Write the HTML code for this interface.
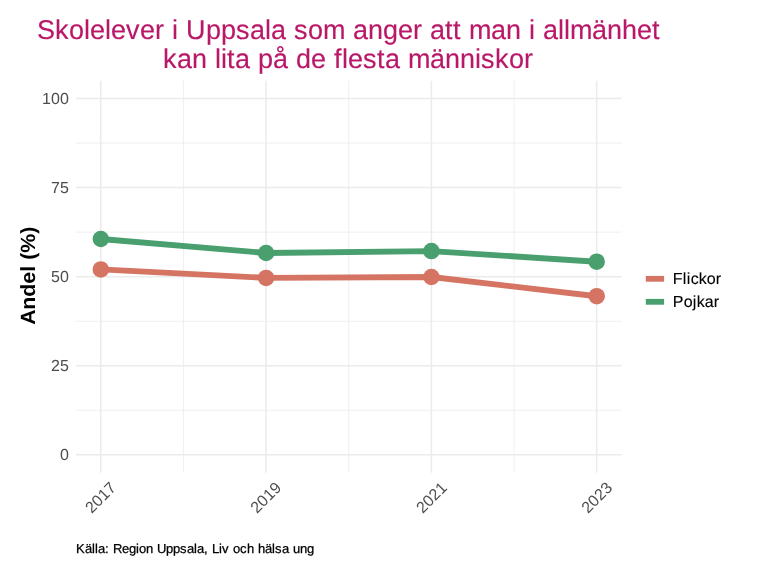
<!DOCTYPE html>
<html lang="sv">
<head>
<meta charset="utf-8">
<title>Skolelever i Uppsala som anger att man i allmänhet kan lita på de flesta människor</title>
<style>
html,body{margin:0;padding:0;background:#fff;}
body{width:768px;height:576px;overflow:hidden;}
svg{display:block;}
text{font-family:"Liberation Sans",Arial,Helvetica,sans-serif;text-rendering:geometricPrecision;}
.title{font-size:27px;fill:#B91868;stroke:#B91868;stroke-width:0.15px;}
.tick{font-size:16px;fill:#4D4D4D;}
.ylab{font-size:21.33px;font-weight:bold;fill:#000;}
.leg{font-size:16px;fill:#000;stroke:#000;stroke-width:0.12px;}
.cap{font-size:13px;fill:#000;stroke:#000;stroke-width:0.25px;}
.maj{stroke:#EBEBEB;stroke-width:1.5;fill:none;}
.min{stroke:#EBEBEB;stroke-width:0.78;fill:none;}
</style>
</head>
<body>
<svg width="768" height="576" viewBox="0 0 768 576">
<rect width="768" height="576" fill="#fff"/>
<text class="title" transform="translate(37,38.8) scale(1,1.01)" x="0 18 32 47 53 68 74 89 103 118 127 135 141 149 169 184 199 213 228 234 249 257 271 286 308 316 331 346 361 376 385 393 408 416 424 432 454 469 484 492 498 506 521 527 533 555 570 585 600 615" y="0">Skolelever i Uppsala som anger att man i allmänhet</text>
<text class="title" transform="translate(163,67.9) scale(1,1.01)" x="0 14 29 44 52 58 64 72 87 95 110 125 133 148 163 171 179 185 200 214 222 237 245 267 282 297 312 318 332 346 361" y="0">kan lita på de flesta människor</text>
<g class="min">
<line x1="76.0" x2="621.5" y1="410.27" y2="410.27"/>
<line x1="76.0" x2="621.5" y1="321.21" y2="321.21"/>
<line x1="76.0" x2="621.5" y1="232.14" y2="232.14"/>
<line x1="76.0" x2="621.5" y1="143.08" y2="143.08"/>
<line y1="80.8" y2="472.7" x1="183.45" x2="183.45"/>
<line y1="80.8" y2="472.7" x1="348.75" x2="348.75"/>
<line y1="80.8" y2="472.7" x1="514.05" x2="514.05"/>
</g>
<g class="maj">
<line x1="76.0" x2="621.5" y1="454.8" y2="454.8"/>
<line x1="76.0" x2="621.5" y1="365.74" y2="365.74"/>
<line x1="76.0" x2="621.5" y1="276.68" y2="276.68"/>
<line x1="76.0" x2="621.5" y1="187.61" y2="187.61"/>
<line x1="76.0" x2="621.5" y1="98.55" y2="98.55"/>
<line y1="80.8" y2="472.7" x1="100.8" x2="100.8"/>
<line y1="80.8" y2="472.7" x1="266.1" x2="266.1"/>
<line y1="80.8" y2="472.7" x1="431.4" x2="431.4"/>
<line y1="80.8" y2="472.7" x1="596.7" x2="596.7"/>
</g>
<polyline fill="none" stroke="#D57463" stroke-width="5.9" stroke-linejoin="round" points="100.8,269.4 266.1,277.9 431.4,277 596.7,296.2"/>
<polyline fill="none" stroke="#4A9F6F" stroke-width="5.9" stroke-linejoin="round" points="100.8,239 266.1,253 431.4,251.1 596.7,261.7"/>
<g fill="#D57463"><circle cx="100.8" cy="269.4" r="8.25"/><circle cx="266.1" cy="277.9" r="8.25"/><circle cx="431.4" cy="277" r="8.25"/><circle cx="596.7" cy="296.2" r="8.25"/></g>
<g fill="#4A9F6F"><circle cx="100.8" cy="239" r="8.25"/><circle cx="266.1" cy="253" r="8.25"/><circle cx="431.4" cy="251.1" r="8.25"/><circle cx="596.7" cy="261.7" r="8.25"/></g>
<text class="tick" transform="translate(69,104)" x="-27 -18 -9" y="0">100</text>
<text class="tick" transform="translate(69,193)" x="-18 -9" y="0">75</text>
<text class="tick" transform="translate(69,282)" x="-18 -9" y="0">50</text>
<text class="tick" transform="translate(69,371)" x="-18 -9" y="0">25</text>
<text class="tick" transform="translate(69,460)" x="-9" y="0">0</text>
<text class="tick" transform="translate(117.2,488.6) rotate(-45)" x="-36 -27 -18 -9" y="0">2017</text>
<text class="tick" transform="translate(282.4,488.6) rotate(-45)" x="-36 -27 -18 -9" y="0">2019</text>
<text class="tick" transform="translate(448.1,488.6) rotate(-45)" x="-36 -27 -18 -9" y="0">2021</text>
<text class="tick" transform="translate(613.4,488.6) rotate(-45)" x="-36 -27 -18 -9" y="0">2023</text>
<text class="ylab" transform="translate(35.4,275.8) rotate(-90) scale(1,0.965)" x="-49 -34 -21 -8 4 10 16 23 42" y="0">Andel (%)</text>
<line x1="645.8" x2="664.1" y1="278.8" y2="278.8" stroke="#D57463" stroke-width="5.8"/>
<line x1="645.8" x2="664.1" y1="301.8" y2="301.8" stroke="#4A9F6F" stroke-width="5.8"/>
<text class="leg" transform="translate(672.7,284)" x="0 10 14 18 26 34 43" y="0">Flickor</text>
<text class="leg" transform="translate(672.7,307)" x="0 11 20 24 32 41" y="0">Pojkar</text>
<text class="cap" transform="translate(76,553)" x="0 9 16 19 22 29 33 37 46 53 60 63 70 77 81 90 97 104 111 118 121 128 132 136 143 146 153 157 164 171 178 182 189 196 199 206 213 217 224 231" y="0">Källa: Region Uppsala, Liv och hälsa ung</text>
</svg>
</body>
</html>
